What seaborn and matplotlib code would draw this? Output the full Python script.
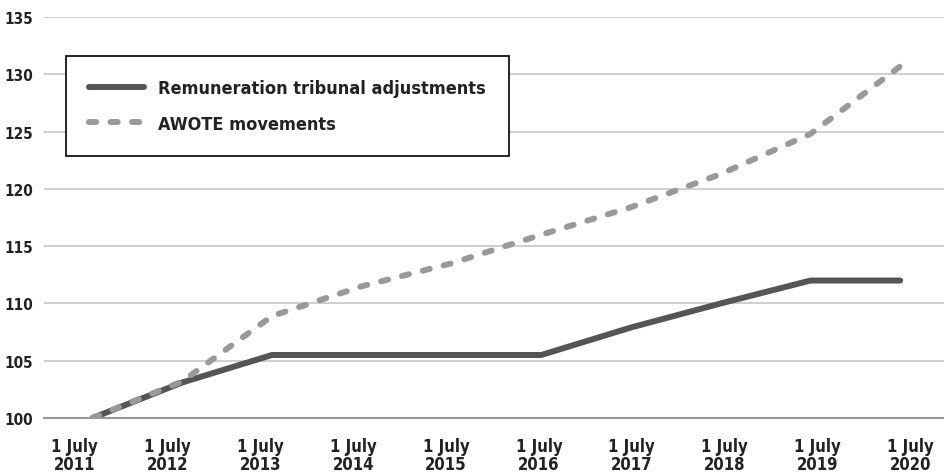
import pandas as pd
import matplotlib.pyplot as plt
import seaborn as sns
import numpy as np

years = ['2011', '2012', '2013', '2014', '2015', '2016', '2017', '2018', '2019', '2020']
tick_labels = ['1 July\n' + y for y in years]
tribunal = [100, 103.1, 105.5, 105.5, 105.5, 105.5, 107.9, 110.0, 112.0, 112.0]
awote = [100, 103.2, 108.9, 111.5, 113.5, 116.0, 118.4, 121.3, 124.8, 130.7]

sns.set_style('white')
plt.rcParams['font.family'] = ['DejaVu Sans']
plt.rcParams['font.stretch'] = 'condensed'
plt.rcParams['font.weight'] = 'bold'

dados = pd.DataFrame({'x': np.arange(len(years)), 'tribunal': tribunal, 'awote': awote})

fig = plt.figure(figsize=(9.45, 4.77), dpi=100)
ax = fig.add_axes([0.0466, 0.1216, 0.9534, 0.8404])

sns.lineplot(data=dados, x='x', y='tribunal', ax=ax, color='#555555', linewidth=4.3,
             solid_capstyle='round', label='Remuneration tribunal adjustments')
sns.lineplot(data=dados, x='x', y='awote', ax=ax, color='#999999', linewidth=4.3,
             dash_capstyle='round', label='AWOTE movements')
ax.lines[1].set_linestyle((0, (1.2, 2.4)))

ax.set_xlim(-0.54, 9.39)
ax.set_ylim(100, 135)
ax.set_yticks(range(100, 136, 5))
ax.grid(axis='y', color='#cccccc', linewidth=1.3)
ax.set_axisbelow(True)

ax.set_xticks(np.arange(len(years)) * 1.035 - 0.2)
ax.set_xticklabels(tick_labels, fontsize=12, color='#222222', linespacing=1.0)
ax.set_xticks(-0.5 + np.arange(13) * 5 / 6, minor=True)
ax.tick_params(axis='x', which='major', length=0, pad=14)
ax.tick_params(axis='x', which='minor', length=5, direction='in', color='#888888', width=1)
ax.tick_params(axis='y', length=0, pad=8, labelsize=11, labelcolor='#222222')

for s in ['top', 'right', 'left']:
    ax.spines[s].set_visible(False)
ax.spines['bottom'].set_color('#999999')
ax.spines['bottom'].set_linewidth(1.5)
ax.set_xlabel('')
ax.set_ylabel('')

leg = ax.legend(loc='upper left', bbox_to_anchor=(0.0244, 0.903), borderaxespad=0,
                fancybox=False, edgecolor='black', framealpha=1, handlelength=3.0,
                prop={'size': 13, 'weight': 'bold', 'stretch': 'condensed'},
                borderpad=1.3, labelspacing=0.95, handletextpad=0.8)
leg.get_frame().set_linewidth(1.2)
for t in leg.get_texts():
    t.set_color('#222222')

plt.savefig('out.png', dpi=100)
